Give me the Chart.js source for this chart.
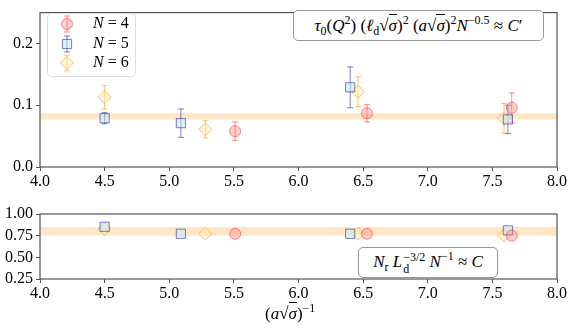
<!DOCTYPE html>
<html lang="en">
<head>
<meta charset="UTF-8">
<title>tau0 scaling</title>
<script src="https://cdn.jsdelivr.net/npm/chart.js"></script>
<style>
  body { margin: 0; background: #fff; }
  #wrap { position: relative; width: 574px; height: 328px; font-family: 'Liberation Serif', serif; color: #000; }
  canvas { position: absolute; left: 0; }
  #topChart { top: 0; }
  #botChart { top: 195px; }
  .note {
    position: absolute; background: #fff; border: 1px solid #999; border-radius: 5px;
    font-size: 17px; white-space: nowrap; line-height: 1; box-sizing: border-box;
    display: flex; align-items: center; justify-content: center;
  }
  .m { font-style: italic; }
  .ov { border-top: 1px solid #000; padding-top: 1px; }
  sup, sub { font-size: 12px; line-height: 0; }
  .stack { display: inline-flex; flex-direction: column; vertical-align: middle; font-size: 12px; line-height: 1; margin-left: 1px; }
  #xlabel { position: absolute; left: 265px; top: 304px; font-size: 17px; white-space: nowrap; }
</style>
</head>
<body>
<div id="wrap">
  <canvas id="topChart" width="574" height="195"></canvas>
  <canvas id="botChart" width="574" height="133"></canvas>

  <div class="note" style="left:293px; top:10px; width:251px; height:31px;">
    <span><span class="m">τ</span><sub>0</sub>(<span class="m">Q</span><sup>2</sup>) (<span class="m">ℓ</span><sub>d</sub>√<span class="ov m">σ</span>)<sup>2</sup> (<span class="m">a</span>√<span class="ov m">σ</span>)<sup>2</sup><span class="m">N</span><sup>−0.5</sup> ≈ <span class="m">C</span>′</span>
  </div>

  <div class="note" style="left:358px; top:247px; width:140px; height:31px;">
    <span><span class="m">N</span><sub>r</sub> <span class="m">L</span><span class="stack"><span>−3/2</span><span>d</span></span> <span class="m">N</span><sup>−1</sup> ≈ <span class="m">C</span></span>
  </div>

  <div id="xlabel">(<span class="m">a</span>√<span class="ov m">σ</span>)<sup>−1</sup></div>
</div>

<script>
// axis ticks
const xTicks = [4.0, 4.5, 5.0, 5.5, 6.0, 6.5, 7.0, 7.5, 8.0];
const topTicks = [0.0, 0.1, 0.2];
const botTicks = [0.25, 0.50, 0.75, 1.00];

// N = 4
const xN4 = [5.51, 6.53, 7.65];
const tauN4 = [0.058, 0.087, 0.096];
const errN4 = [0.015, 0.014, 0.024];
const ratioN4 = [0.772, 0.772, 0.750];

// N = 5
const xN5 = [4.50, 5.09, 6.40, 7.62];
const tauN5 = [0.079, 0.071, 0.129, 0.077];
const errN5 = [0.009, 0.023, 0.033, 0.023];
const ratioN5 = [0.853, 0.772, 0.772, 0.811];

// N = 6
const xN6 = [4.50, 5.28, 6.46, 7.59];
const tauN6 = [0.113, 0.061, 0.122, 0.079];
const errN6 = [0.019, 0.014, 0.024, 0.024];
const ratioN6 = [0.826, 0.772, 0.772, 0.753];

// constant fit bands
const bandTop = [0.077, 0.087];
const bandBot = [0.75, 0.85];

const series = [
    { n: '4', x: xN4, tau: tauN4, err: errN4, ratio: ratioN4, style: 'circle', radius: 5.5,
      edge: 'rgba(255,60,60,0.6)', fill: 'rgba(255,120,120,0.35)' },
    { n: '5', x: xN5, tau: tauN5, err: errN5, ratio: ratioN5, style: 'rect', radius: 6.5,
      edge: 'rgba(40,40,170,0.6)', fill: 'rgba(190,230,250,0.5)' },
    { n: '6', x: xN6, tau: tauN6, err: errN6, ratio: ratioN6, style: 'rectRot', radius: 6.5,
      edge: 'rgba(255,165,40,0.7)', fill: 'rgba(255,235,180,0.5)' }
];

const axisColor = '#555';
const tickFont = { family: "'Liberation Serif', serif", size: 16 };

// band + error bars under the markers
const bandPlugin = {
    id: 'band',
    beforeDatasetsDraw(chart, args, opts) {
        const { ctx, chartArea } = chart;
        const y = chart.scales.y;
        const y1 = y.getPixelForValue(opts.range[1]);
        const y0 = y.getPixelForValue(opts.range[0]);
        ctx.save();
        ctx.fillStyle = 'rgba(253,215,160,0.6)';
        ctx.fillRect(chartArea.left, y1, chartArea.right - chartArea.left, y0 - y1);

        if (opts.errors) {
            chart.data.datasets.forEach((ds, i) => {
                const s = series[i];
                ctx.strokeStyle = s.edge;
                ctx.lineWidth = 1;
                s.x.forEach((xv, j) => {
                    const px = chart.scales.x.getPixelForValue(xv);
                    const ta = y.getPixelForValue(s.tau[j] + s.err[j]);
                    const tb = y.getPixelForValue(s.tau[j] - s.err[j]);
                    ctx.beginPath();
                    ctx.moveTo(px, ta); ctx.lineTo(px, tb);
                    ctx.moveTo(px - 3, ta); ctx.lineTo(px + 3, ta);
                    ctx.moveTo(px - 3, tb); ctx.lineTo(px + 3, tb);
                    ctx.stroke();
                });
            });
        }
        ctx.restore();
    }
};

const framePlugin = {
    id: 'frame',
    afterDraw(chart) {
        const { ctx, chartArea } = chart;
        ctx.save();
        ctx.strokeStyle = axisColor;
        ctx.lineWidth = 1.2;
        ctx.strokeRect(chartArea.left, chartArea.top, chartArea.right - chartArea.left, chartArea.bottom - chartArea.top);
        ctx.restore();
    }
};

const legendPlugin = {
    id: 'errLegend',
    afterDraw(chart) {
        const ctx = chart.ctx;
        ctx.save();
        ctx.beginPath();
        ctx.roundRect(47.5, 13.5, 88, 63, 4);
        ctx.fillStyle = 'rgba(255,255,255,0.8)';
        ctx.fill();
        ctx.strokeStyle = '#ddd';
        ctx.lineWidth = 1;
        ctx.stroke();

        const rows = [24, 44, 63];
        series.forEach((s, i) => {
            const x = 67, y = rows[i];
            ctx.strokeStyle = s.edge;
            ctx.beginPath();
            ctx.moveTo(x, y - 8); ctx.lineTo(x, y + 8);
            ctx.moveTo(x - 3, y - 8); ctx.lineTo(x + 3, y - 8);
            ctx.moveTo(x - 3, y + 8); ctx.lineTo(x + 3, y + 8);
            ctx.stroke();
            ctx.fillStyle = s.fill;
            Chart.helpers.drawPoint(ctx, { pointStyle: s.style, radius: s.radius, rotation: 0, borderWidth: 1 }, x, y);
            ctx.fillStyle = '#000';
            ctx.textBaseline = 'middle';
            ctx.font = "italic 16px 'Liberation Serif', serif";
            ctx.fillText('N', 93, y);
            const w = ctx.measureText('N').width;
            ctx.font = "16px 'Liberation Serif', serif";
            ctx.fillText(' = ' + s.n, 93 + w, y);
        });
        ctx.restore();
    }
};

function makeChart(id, key, yMin, yMax, yTicks, digits, padTop, xAxisH, band, errors, extraPlugins) {
    const datasets = series.map(s => ({
        label: 'N = ' + s.n,
        data: s.x.map((xv, j) => ({ x: xv, y: s[key][j] })),
        pointStyle: s.style,
        pointRadius: s.radius,
        pointHoverRadius: s.radius,
        pointBorderWidth: 1,
        borderColor: s.edge,
        backgroundColor: s.fill,
        showLine: false
    }));

    return new Chart(document.getElementById(id), {
        type: 'scatter',
        data: { datasets: datasets },
        options: {
            responsive: false,
            animation: false,
            layout: { padding: { left: 0, top: padTop, right: 17, bottom: 0 } },
            plugins: {
                legend: { display: false },
                tooltip: { enabled: false },
                band: { range: band, errors: errors }
            },
            scales: {
                x: {
                    type: 'linear', min: 4, max: 8,
                    afterBuildTicks: s => { s.ticks = xTicks.map(v => ({ value: v })); },
                    afterFit: s => { s.height = xAxisH; },
                    ticks: { callback: v => v.toFixed(1), color: '#000', font: tickFont, padding: 1, maxRotation: 0, autoSkip: false },
                    grid: { drawOnChartArea: false, drawTicks: true, tickLength: 4, tickColor: axisColor },
                    border: { display: false }
                },
                y: {
                    type: 'linear', min: yMin, max: yMax,
                    afterBuildTicks: s => { s.ticks = yTicks.map(v => ({ value: v })); },
                    afterFit: s => { s.width = 40; },
                    ticks: { callback: v => v.toFixed(digits), color: '#000', font: tickFont, padding: 3, autoSkip: false },
                    grid: { drawOnChartArea: false, drawTicks: true, tickLength: 4, tickColor: axisColor },
                    border: { display: false }
                }
            }
        },
        plugins: [bandPlugin, framePlugin].concat(extraPlugins)
    });
}

makeChart('topChart', 'tau', 0, 0.25, topTicks, 1, 6, 28, bandTop, true, [legendPlugin]);
makeChart('botChart', 'ratio', 0.25, 1.0, botTicks, 2, 19, 49, bandBot, false, []);
</script>
</body>
</html>
